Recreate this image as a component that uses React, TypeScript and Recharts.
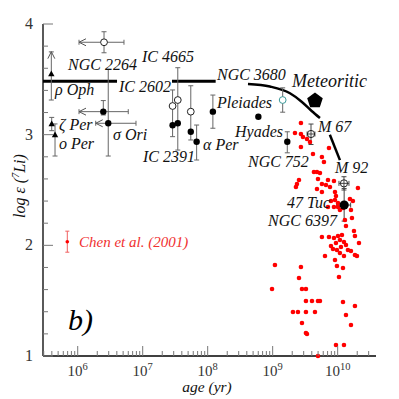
import React from 'react';
import { ComposedChart, XAxis, YAxis, Scatter, Line, ErrorBar } from 'recharts';

// ---------- axes ----------
const xDomain: [number, number] = [5.466, 10.59];
const yDomain: [number, number] = [1, 4];
const xTickExponents = [6, 7, 8, 9, 10];
const yTickLabels = [1, 2, 3, 4];

// ---------- Chen et al. (2001) field stars: log age (yr), log eps(Li) ----------
const chenLogAge = [
  9.435, 9.343, 9.435, 9.466, 9.528, 9.574, 9.435, 9.866, 9.62, 9.758, 9.789, 9.635, 9.682, 9.728,
  9.405, 9.374, 9.358, 9.697, 9.851, 9.943, 9.758, 9.82, 9.882, 9.682, 9.758, 9.959, 9.974, 10.312,
  9.959, 10.005, 9.943, 10.005, 9.897, 10.205, 10.035, 10.082, 10.22, 10.112, 10.128, 10.189, 10.235,
  9.851,
  9.758, 9.866, 9.943, 10.005, 10.066, 10.035, 10.097, 9.974, 9.897, 9.928, 10.051, 10.128, 10.251,
  10.266, 10.328, 10.205, 10.266, 10.297, 10.035, 10.097, 9.805, 9.959, 9.989, 10.082, 10.02, 10.158,
  9.989,
  9.035, 9.435, 9.405, 8.99, 9.451, 9.512, 9.512, 9.605, 9.697, 9.728, 10.082, 10.266, 9.312, 9.389,
  9.512, 9.651, 10.128, 9.451, 10.205, 9.512, 9.528, 9.974, 10.097, 9.697,
];
const chenLogLi = [
  3.105, 3.015, 3.006, 2.979, 2.961, 2.934, 2.889, 2.88, 2.825, 2.798, 2.753, 2.663, 2.663, 2.654,
  2.59, 2.554, 2.527, 2.599, 2.59, 2.581, 2.554, 2.545, 2.527, 2.509, 2.482, 2.482, 2.446, 2.518,
  2.41, 2.383, 2.346, 2.346, 2.401, 2.319, 2.319, 2.337, 2.247, 2.229, 2.175, 2.419, 2.401,
  2.346,
  2.075, 2.075, 2.066, 2.084, 2.093, 2.048, 2.03, 2.021, 1.994, 1.967, 1.985, 2.003, 2.13,
  2.084, 2.021, 1.949, 1.913, 1.904, 1.931, 1.904, 1.904, 1.868, 1.813, 1.795, 1.714, 1.958,
  1.958,
  1.822, 1.804, 1.705, 1.605, 1.605, 1.605, 1.497, 1.497, 1.497, 1.497, 1.488, 1.452, 1.398, 1.398,
  1.398, 1.398, 1.37, 1.298, 1.28, 1.208, 1.199, 1.099, 1.099, 1.0,
];

// ---------- clusters (x = log age, y = log eps) ----------
const filledClusters = [
  { name: 'sigma Ori a', x: 6.394, y: 3.208, ex: [0.374, 0.384], ey: [0.03, 0.1] },
  { name: 'sigma Ori b', x: 6.47, y: 3.103, ex: [0.193, 0.427], ey: [0.296, 0.487] },
  { name: 'IC 2602', x: 7.46, y: 3.085, ey: [0.103, 0.319] },
  { name: 'IC 2391', x: 7.54, y: 3.103, ey: [0.242, 0.502] },
  { name: 'IC 4665', x: 7.74, y: 3.027, ey: [0.075, 0.415] },
  { name: 'alpha Per', x: 7.83, y: 2.936, ey: [0.165, 0.151] },
  { name: 'Pleiades', x: 8.08, y: 3.208, ey: [0.15, 0.15] },
  { name: 'Hyades', x: 8.78, y: 3.162 },
  { name: 'NGC 752', x: 9.225, y: 2.936, ey: [0.1, 0.09] },
];
const openClusters = [
  { name: 'NGC 2264', x: 6.405, y: 3.835, ex: [0.385, 0.307], ey: [0.095, 0.095] },
  { name: 'IC 2602', x: 7.46, y: 3.259 },
  { name: 'IC 2391', x: 7.54, y: 3.313 },
  { name: 'IC 4665', x: 7.74, y: 3.208 },
];
const ngc3680 = [{ name: 'NGC 3680', x: 9.154, y: 3.313, ey: [0.11, 0.11] }];
const crossedClusters = [
  { name: 'M 67', x: 9.59, y: 3.006, ex: [0.06, 0.06], ey: [0.095, 0.09] },
  { name: 'M 92', x: 10.097, y: 2.56, ex: [0.077, 0.077], ey: [0.06, 0.06] },
];
const globular47Tuc = [{ name: '47 Tuc', x: 10.1, y: 2.364, ex: [0.115, 0.1], ey: [0.145, 0.15] }];
const triangleStars = [
  { name: 'rho Oph', x: 5.594, y: 3.548, ey: [0.235, 0.2] },
  { name: 'zeta Per', x: 5.6, y: 3.096, ey: [0.06, 0.06] },
  { name: 'o Per', x: 5.651, y: 2.997, ey: [0.19, 0.1] },
];
const leftArrowTips = [
  { x: 6.02, y: 3.835 },
  { x: 6.02, y: 3.208 },
  { x: 6.277, y: 3.103 },
];
const upArrowTips = [{ x: 5.594, y: 3.75 }];
const meteoritic = [{ x: 9.651, y: 3.307 }];

// ---------- depletion trend line ----------
const trendPlateauA = [{ x: 5.466, y: 3.482 }, { x: 6.605, y: 3.482 }];
const trendPlateauB = [{ x: 7.451, y: 3.482 }, { x: 8.123, y: 3.482 }];
const trendCurve = [
  { x: 8.62, y: 3.458 }, { x: 8.958, y: 3.435 }, { x: 9.266, y: 3.374 },
  { x: 9.446, y: 3.298 }, { x: 9.6, y: 3.214 }, { x: 9.728, y: 3.15 },
];
const trendTail = [{ x: 9.88, y: 3.0 }, { x: 10.035, y: 2.77 }];

// ---------- text annotations (anchored at data coords, left baseline) ----------
const clusterLabels = [
  { text: 'NGC 2264', x: 5.851, y: 3.584 },
  { text: 'IC 4665', x: 6.989, y: 3.657 },
  { text: 'ρ Oph', x: 5.651, y: 3.358 },
  { text: 'IC 2602', x: 6.635, y: 3.386 },
  { text: 'ζ Per', x: 5.712, y: 3.042 },
  { text: 'σ Ori', x: 6.543, y: 2.952 },
  { text: 'o Per', x: 5.712, y: 2.87 },
  { text: 'IC 2391', x: 7.005, y: 2.753 },
  { text: 'α Per', x: 7.928, y: 2.861 },
  { text: 'Pleiades', x: 8.143, y: 3.241 },
  { text: 'NGC 3680', x: 8.143, y: 3.494 },
  { text: 'Meteoritic', x: 9.297, y: 3.431 },
  { text: 'Hyades', x: 8.42, y: 2.979 },
  { text: 'M 67', x: 9.697, y: 3.024 },
  { text: 'NGC 752', x: 8.62, y: 2.708 },
  { text: 'M 92', x: 9.958, y: 2.654 },
  { text: '47 Tuc', x: 9.22, y: 2.337 },
  { text: 'NGC 6397', x: 8.928, y: 2.175 },
];
const legendMarker = [{ x: 5.84, y: 2.033, ey: [0.095, 0.095] }];
const legendText = [{ text: 'Chen et al. (2001)', x: 6.02, y: 1.985 }];
const panelTag = [{ text: 'b)', x: 5.851, y: 1.235 }];

// ---------- tick lists ----------
const xTicks: number[] = [];
for (let e = 5; e <= 10; e++) {
  for (let k = 1; k <= 9; k++) {
    const v = e + Math.log10(k);
    if (v >= xDomain[0] && v <= xDomain[1]) xTicks.push(v);
  }
}
const yTicks: number[] = [];
for (let i = 0; i <= 15; i++) yTicks.push(Math.round((1 + i * 0.2) * 10) / 10);

const isMajorX = (v: number) => xTickExponents.some((e) => Math.abs(e - v) < 1e-6);
const isMajorY = (v: number) => yTickLabels.some((e) => Math.abs(e - v) < 1e-6);

const SERIF = "'Liberation Serif', 'DejaVu Serif', serif";
const TICK = '#777';

const BottomTick = (p: any) => {
  const v = p.payload.value;
  const major = isMajorX(v);
  return (
    <g>
      <line x1={p.x} x2={p.x} y1={p.y} y2={p.y - (major ? 10 : 5)} stroke={TICK} strokeWidth={1} />
      {major && (
        <text x={p.x} y={p.y + 20} textAnchor="middle" fontFamily={SERIF} fontSize={15} fill="#333">
          10<tspan dy={-6} fontSize={10.5}>{Math.round(v)}</tspan>
        </text>
      )}
    </g>
  );
};
const TopTick = (p: any) => {
  const v = p.payload.value;
  const major = isMajorX(v);
  return <line x1={p.x} x2={p.x} y1={p.y} y2={p.y + (major ? 9 : 5)} stroke={TICK} strokeWidth={1} />;
};
const LeftTick = (p: any) => {
  const v = p.payload.value;
  const major = isMajorY(v);
  return (
    <g>
      <line x1={p.x} x2={p.x + (major ? 10 : 5)} y1={p.y} y2={p.y} stroke={TICK} strokeWidth={1} />
      {major && (
        <text x={p.x - 10} y={p.y + 5} textAnchor="end" fontFamily={SERIF} fontSize={16} fill="#333">
          {Math.round(v)}
        </text>
      )}
    </g>
  );
};
const RightTick = (p: any) => {
  const v = p.payload.value;
  const major = isMajorY(v);
  return <line x1={p.x} x2={p.x - (major ? 9 : 5)} y1={p.y} y2={p.y} stroke={TICK} strokeWidth={1} />;
};

const XTitle = (p: any) => {
  const vb = p.viewBox || { x: 43, y: 356, width: 333 };
  return (
    <text x={vb.x + 164} y={vb.y + 36} textAnchor="middle" fontFamily={SERIF} fontStyle="italic" fontSize={15.5} fill="#111">
      age (yr)
    </text>
  );
};
const YTitle = (p: any) => {
  const vb = p.viewBox || { x: 0, y: 24, height: 332 };
  const cx = 25;
  const cy = vb.y + 162;
  return (
    <text x={cx} y={cy} transform={`rotate(-90 ${cx} ${cy})`} textAnchor="middle" fontFamily={SERIF} fontStyle="italic" fontSize={16} fill="#111">
      log ε (<tspan dy={-6} fontSize={10}>7</tspan><tspan dy={6}>Li)</tspan>
    </text>
  );
};

const pl = (p: any) => p.payload ?? p;

const RedDot = (p: any) => <circle cx={p.cx} cy={p.cy} r={2.3} fill="#ff0000" />;
const BlackDot = (p: any) => <circle cx={p.cx} cy={p.cy} r={3.2} fill="#000" />;
const BigBlack = (p: any) => <circle cx={p.cx} cy={p.cy} r={4.6} fill="#000" />;
const OpenDot = (p: any) => <circle cx={p.cx} cy={p.cy} r={3.4} fill="#fff" stroke="#222" strokeWidth={1} />;
const TealDot = (p: any) => <circle cx={p.cx} cy={p.cy} r={3.4} fill="#fff" stroke="#3c9a9a" strokeWidth={1} />;
const CrossDot = (p: any) => <circle cx={p.cx} cy={p.cy} r={3.6} fill="none" stroke="#222" strokeWidth={1} />;
const Triangle = (p: any) => (
  <path d={`M${p.cx},${p.cy - 3.6} L${p.cx + 3.2},${p.cy + 2.3} L${p.cx - 3.2},${p.cy + 2.3} Z`} fill="#000" />
);
const LeftArrow = (p: any) => (
  <path d={`M${p.cx + 7},${p.cy - 3.5} L${p.cx},${p.cy} L${p.cx + 7},${p.cy + 3.5}`} fill="none" stroke="#555" strokeWidth={1} />
);
const UpArrow = (p: any) => (
  <path d={`M${p.cx - 3.5},${p.cy + 7} L${p.cx},${p.cy} L${p.cx + 3.5},${p.cy + 7}`} fill="none" stroke="#555" strokeWidth={1} />
);
const Pentagon = (p: any) => {
  const r = 8.2;
  const pts = [0, 1, 2, 3, 4]
    .map((i) => {
      const a = ((-90 + 72 * i) * Math.PI) / 180;
      return `${p.cx + r * Math.cos(a)},${p.cy + r * Math.sin(a)}`;
    })
    .join(' ');
  return <polygon points={pts} fill="#000" />;
};
const ClusterText = (p: any) => {
  const d = pl(p);
  return (
    <text x={p.cx} y={p.cy} fontFamily={SERIF} fontStyle="italic" fontSize={d.text === 'Meteoritic' ? 18 : 16} fill="#111">
      {d.text}
    </text>
  );
};
const LegendTextShape = (p: any) => (
  <text x={p.cx} y={p.cy} fontFamily={SERIF} fontStyle="italic" fontSize={15} fill="#f03030">
    {pl(p).text}
  </text>
);
const TagShape = (p: any) => (
  <text x={p.cx} y={p.cy} fontFamily={SERIF} fontStyle="italic" fontSize={30} fill="#000">
    {pl(p).text}
  </text>
);
const SmallRed = (p: any) => <circle cx={p.cx} cy={p.cy} r={1.8} fill="#ff0000" />;

const chenData = chenLogAge.map((x, i) => ({ x, y: chenLogLi[i] }));

const EB = '#666';

export default function App() {
  return (
    <div style={{ position: 'absolute', left: 0, top: 0, background: '#fff' }}>
      <ComposedChart width={399} height={399} margin={{ top: 24, right: 23, bottom: 0, left: 0 }}>
        <XAxis
          xAxisId="b"
          type="number"
          dataKey="x"
          domain={xDomain}
          ticks={xTicks}
          interval={0}
          tickLine={false}
          tickSize={0}
          tickMargin={0}
          height={43}
          axisLine={{ stroke: '#000', strokeWidth: 1.3 }}
          tick={(p: any) => <BottomTick {...p} />}
          label={(p: any) => <XTitle {...p} />}
        />
        <XAxis
          xAxisId="t"
          orientation="top"
          type="number"
          dataKey="x"
          domain={xDomain}
          ticks={xTicks}
          interval={0}
          tickLine={false}
          tickSize={0}
          tickMargin={0}
          height={0}
          axisLine={{ stroke: '#222', strokeWidth: 1.2 }}
          tick={(p: any) => <TopTick {...p} />}
        />
        <YAxis
          yAxisId="l"
          type="number"
          dataKey="y"
          domain={yDomain}
          ticks={yTicks}
          interval={0}
          tickLine={false}
          tickSize={0}
          tickMargin={0}
          width={43}
          axisLine={{ stroke: '#000', strokeWidth: 1.3 }}
          tick={(p: any) => <LeftTick {...p} />}
          label={(p: any) => <YTitle {...p} />}
        />
        <YAxis
          yAxisId="r"
          orientation="right"
          type="number"
          dataKey="y"
          domain={yDomain}
          ticks={yTicks}
          interval={0}
          tickLine={false}
          tickSize={0}
          tickMargin={0}
          width={0}
          axisLine={{ stroke: '#999', strokeWidth: 1 }}
          tick={(p: any) => <RightTick {...p} />}
        />

        <Line xAxisId="b" yAxisId="l" data={trendPlateauA} dataKey="y" stroke="#000" strokeWidth={3} dot={false} activeDot={false} isAnimationActive={false} />
        <Line xAxisId="b" yAxisId="l" data={trendPlateauB} dataKey="y" stroke="#000" strokeWidth={3} dot={false} activeDot={false} isAnimationActive={false} />
        <Line xAxisId="b" yAxisId="l" data={trendCurve} dataKey="y" type="monotone" stroke="#000" strokeWidth={2.5} dot={false} activeDot={false} isAnimationActive={false} />
        <Line xAxisId="b" yAxisId="l" data={trendTail} dataKey="y" stroke="#000" strokeWidth={2.5} dot={false} activeDot={false} isAnimationActive={false} />

        <Scatter xAxisId="b" yAxisId="l" data={chenData} shape={RedDot} isAnimationActive={false} />

        <Scatter xAxisId="b" yAxisId="l" data={legendMarker} shape={SmallRed} isAnimationActive={false}>
          <ErrorBar dataKey="ey" direction="y" width={2} stroke="#f06060" strokeWidth={1} />
        </Scatter>

        <Scatter xAxisId="b" yAxisId="l" data={triangleStars} shape={Triangle} isAnimationActive={false}>
          <ErrorBar dataKey="ey" direction="y" width={2.5} stroke={EB} strokeWidth={1} />
        </Scatter>
        <Scatter xAxisId="b" yAxisId="l" data={filledClusters} shape={BlackDot} isAnimationActive={false}>
          <ErrorBar dataKey="ey" direction="y" width={2.5} stroke={EB} strokeWidth={1} />
          <ErrorBar dataKey="ex" direction="x" width={2.5} stroke={EB} strokeWidth={1} />
        </Scatter>
        <Scatter xAxisId="b" yAxisId="l" data={openClusters} shape={OpenDot} isAnimationActive={false}>
          <ErrorBar dataKey="ey" direction="y" width={2.5} stroke={EB} strokeWidth={1} />
          <ErrorBar dataKey="ex" direction="x" width={2.5} stroke={EB} strokeWidth={1} />
        </Scatter>
        <Scatter xAxisId="b" yAxisId="l" data={ngc3680} shape={TealDot} isAnimationActive={false}>
          <ErrorBar dataKey="ey" direction="y" width={2.5} stroke={EB} strokeWidth={1} />
        </Scatter>
        <Scatter xAxisId="b" yAxisId="l" data={crossedClusters} shape={CrossDot} isAnimationActive={false}>
          <ErrorBar dataKey="ey" direction="y" width={2.5} stroke="#444" strokeWidth={1} />
          <ErrorBar dataKey="ex" direction="x" width={2.5} stroke="#444" strokeWidth={1} />
        </Scatter>
        <Scatter xAxisId="b" yAxisId="l" data={globular47Tuc} shape={BigBlack} isAnimationActive={false}>
          <ErrorBar dataKey="ey" direction="y" width={2.5} stroke="#444" strokeWidth={1} />
          <ErrorBar dataKey="ex" direction="x" width={2.5} stroke="#444" strokeWidth={1} />
        </Scatter>
        <Scatter xAxisId="b" yAxisId="l" data={leftArrowTips} shape={LeftArrow} isAnimationActive={false} />
        <Scatter xAxisId="b" yAxisId="l" data={upArrowTips} shape={UpArrow} isAnimationActive={false} />
        <Scatter xAxisId="b" yAxisId="l" data={meteoritic} shape={Pentagon} isAnimationActive={false} />

        <Scatter xAxisId="b" yAxisId="l" data={clusterLabels} shape={ClusterText} isAnimationActive={false} />
        <Scatter xAxisId="b" yAxisId="l" data={legendText} shape={LegendTextShape} isAnimationActive={false} />
        <Scatter xAxisId="b" yAxisId="l" data={panelTag} shape={TagShape} isAnimationActive={false} />
      </ComposedChart>
    </div>
  );
}
